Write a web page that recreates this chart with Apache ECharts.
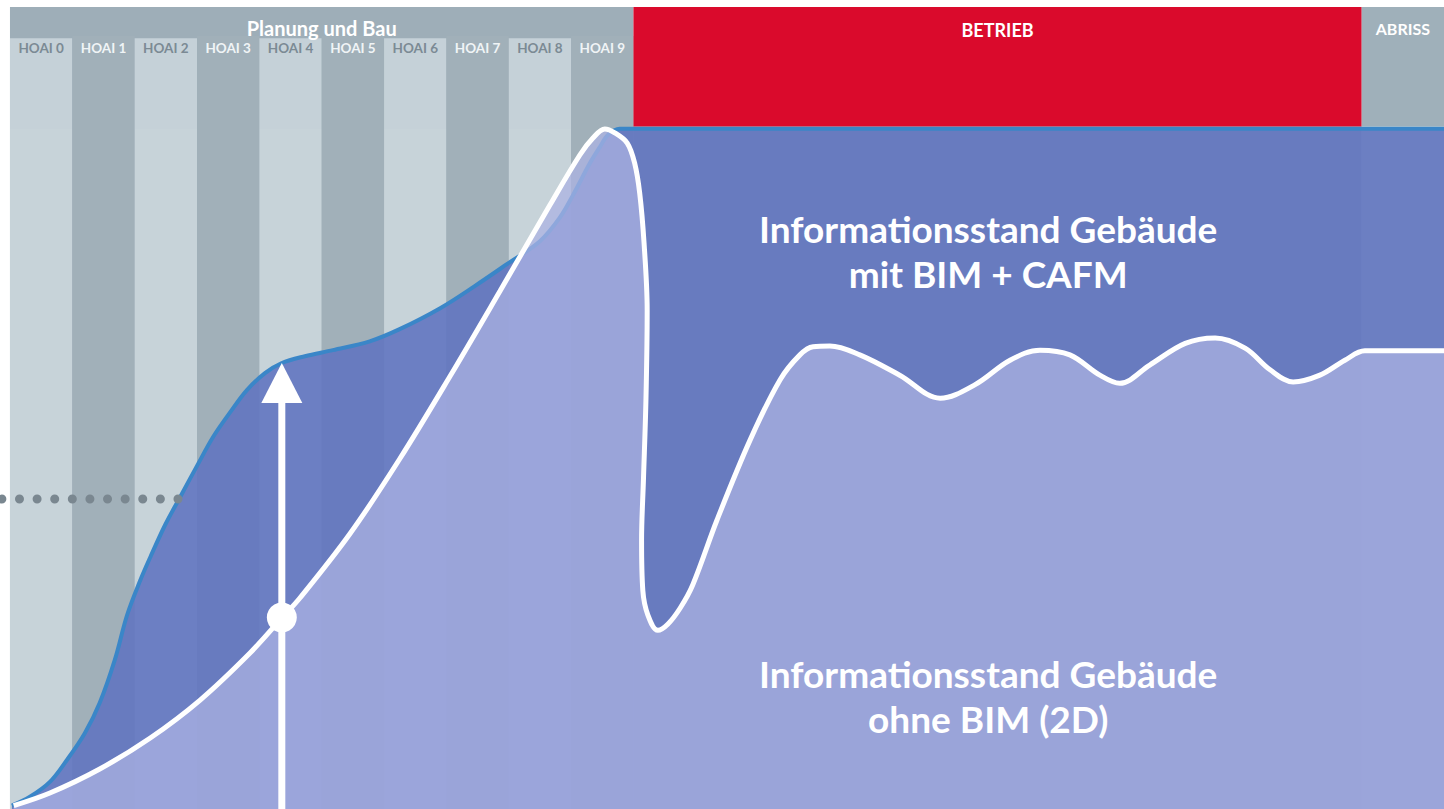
<!DOCTYPE html>
<html><head><meta charset="utf-8">
<script src="https://cdn.jsdelivr.net/npm/echarts@6/dist/echarts.min.js"></script>
<style>html,body{margin:0;padding:0;background:#fff}#c{width:1444px;height:809px}</style>
</head><body><div id="c"></div>
<script>
// ---- data ----
const phaseLabels = ['HOAI 0','HOAI 1','HOAI 2','HOAI 3','HOAI 4','HOAI 5','HOAI 6','HOAI 7','HOAI 8','HOAI 9'];
const stageLabels = ['Planung und Bau','BETRIEB','ABRISS'];
const stageStart = [0, 10, 21.68];
const stageEnd = [10, 21.68, 23];
// information level with BIM + CAFM (x in HOAI phases, y in % of max)
const bimX = [0.03,0.32,0.64,0.91,1.20,1.44,1.68,1.88,2.09,2.25,2.49,2.73,3.00,3.26,3.53,3.80,4.09,4.36,4.73,5.18,5.77,6.25,6.90,7.46,7.97,8.50,8.82,9.03,9.30,9.46,9.59,9.78,10.2,23.0];
const bimY = [0,1.3,3.5,6.7,10.7,15.2,21.5,28.2,33.3,36.7,41.5,45.6,50.2,54.5,58.1,61.4,63.9,65.4,66.4,67.3,68.6,70.4,73.5,76.8,80.0,83.4,86.9,90.2,94.9,97.3,99.1,100,100,100];
// information level without BIM (2D)
const twoDX = [0.06,0.64,1.44,2.25,3.05,3.85,4.36,4.65,5.45,6.25,7.06,7.86,8.66,9.14,9.35,9.54,9.70,9.90,10.02,10.10,10.17,10.22,10.20,10.16,10.13,10.15,10.23,10.39,10.55,10.75,10.95,11.34,11.87,12.35,12.67,12.88,13.15,13.63,14.27,14.92,15.48,16.04,16.52,17.00,17.48,17.80,18.28,18.85,19.33,19.81,20.21,20.58,21.01,21.41,21.73,23.00];
const twoDY = [0,1.86,5.41,9.99,15.6,22.55,27.72,30.67,40.13,51.21,63.47,76.03,88.74,96.13,98.64,99.97,99.4,97.9,94.9,90.5,83.1,73.2,59.9,48.1,39.2,31.8,28.2,25.9,26.8,29.2,32.6,42.2,54.0,62.9,66.6,67.8,67.9,66.6,63.6,60.2,62.2,65.8,67.3,66.6,63.6,62.4,65.1,68.3,69.1,67.6,64.4,62.6,63.6,65.8,67.2,67.2];
const refLineX = [-0.13, 2.70];
const refLineY = [45.3, 45.3];
const markerPhase = 4.36;
const markerTop = 65.4;
const markerCross = 27.8;
const areaTitles = ['Informationsstand Gebäude\nmit BIM + CAFM', 'Informationsstand Gebäude\nohne BIM (2D)'];

// ---- layout / styles ----
const FONT = 'Lato';
const Y_MIN = -0.5, Y_MAX = 118, HEAD_BOTTOM = 100.3, COL_TOP_LIGHT = 113.4, COL_TOP_DARK = 113.7;
const C_GRAY = '#9eaeb8', C_DARK = '#a1b0b9', C_LIGHT = '#c5d1d8', C_RED = '#da0a2c';

const bg = [];
bg.push([{xAxis: stageStart[0], yAxis: Y_MIN, itemStyle: {color: C_GRAY}, label: {show: false}}, {xAxis: stageEnd[0], yAxis: Y_MAX}]);
phaseLabels.forEach((p, i) => {
  const light = i % 2 === 0;
  bg.push([{name: p, xAxis: i, yAxis: Y_MIN, itemStyle: {color: light ? C_LIGHT : C_DARK},
    label: {show: true, position: 'insideTop', distance: light ? 3 : 5, color: light ? '#7b8a94' : '#f0f4f6',
      fontFamily: FONT, fontWeight: 'bold', fontSize: 13.5, lineHeight: 14}},
    {xAxis: i + 1, yAxis: light ? COL_TOP_LIGHT : COL_TOP_DARK}]);
});
bg.push([{name: stageLabels[0], xAxis: stageStart[0], yAxis: COL_TOP_DARK, itemStyle: {color: 'rgba(0,0,0,0)'},
  label: {show: true, position: 'insideTop', distance: 11, color: '#ffffff', fontFamily: FONT, fontWeight: 'bold', fontSize: 20, lineHeight: 20}},
  {xAxis: stageEnd[0], yAxis: Y_MAX}]);
bg.push([{name: stageLabels[1], xAxis: stageStart[1], yAxis: HEAD_BOTTOM, itemStyle: {color: C_RED},
  label: {show: true, position: 'insideTop', distance: 14, color: '#ffffff', fontFamily: FONT, fontWeight: 'bold', fontSize: 18}},
  {xAxis: stageEnd[1], yAxis: Y_MAX}]);
bg.push([{xAxis: stageStart[1], yAxis: Y_MIN, itemStyle: {color: C_DARK}, label: {show: false}}, {xAxis: stageEnd[1], yAxis: HEAD_BOTTOM}]);
bg.push([{name: stageLabels[2], xAxis: stageStart[2], yAxis: HEAD_BOTTOM, itemStyle: {color: '#9fb0ba'},
  label: {show: true, position: 'insideTop', distance: 13, color: '#ffffff', fontFamily: FONT, fontWeight: 'bold', fontSize: 16}},
  {xAxis: stageEnd[2], yAxis: Y_MAX}]);
bg.push([{xAxis: stageStart[2], yAxis: Y_MIN, itemStyle: {color: C_LIGHT}, label: {show: false}}, {xAxis: stageEnd[2], yAxis: HEAD_BOTTOM}]);

// subtle stripe overlay so the HOAI columns show through the filled areas
const overlay = [];
phaseLabels.forEach((p, i) => {
  if (i % 2 === 0) overlay.push([{xAxis: i, yAxis: Y_MIN, itemStyle: {color: 'rgba(255,255,255,0.045)'}}, {xAxis: i + 1, yAxis: 100}]);
});

const zip = (xs, ys) => xs.map((x, i) => [x, ys[i]]);

const chart = echarts.init(document.getElementById('c'), null, {renderer: 'svg'});
chart.setOption({
  animation: false,
  backgroundColor: '#ffffff',
  grid: {left: 0, right: 0, top: 7, bottom: 0},
  xAxis: {type: 'value', min: -0.16, max: 23, show: false},
  yAxis: {type: 'value', min: Y_MIN, max: Y_MAX, show: false},
  series: [
    {type: 'line', data: [], z: 1, silent: true, markArea: {silent: true, data: bg}},
    {name: 'BIM', type: 'line', data: zip(bimX, bimY), z: 2, smooth: 0.35, symbol: 'none', silent: true,
      lineStyle: {color: '#3a86c8', width: 4},
      areaStyle: {color: 'rgba(98,117,192,0.9)', opacity: 1, origin: 'start'}},
    {name: '2D', type: 'line', data: zip(twoDX, twoDY), z: 3, smooth: 0.35, symbol: 'none', silent: true,
      lineStyle: {color: '#ffffff', width: 5},
      areaStyle: {color: 'rgba(172,178,226,0.74)', opacity: 1, origin: 'start'}},
    {type: 'line', data: [], z: 4, silent: true, markArea: {silent: true, label: {show: false}, data: overlay}},
    {type: 'line', data: zip(refLineX, refLineY), z: 4, symbol: 'none', silent: true,
      lineStyle: {color: '#7a8790', width: 9, type: [0.01, 17.6], cap: 'round'}},
    {type: 'line', data: [[markerPhase, Y_MIN], [markerPhase, markerTop - 3]], z: 5, symbol: 'none', silent: true,
      lineStyle: {color: '#ffffff', width: 7}},
    {type: 'scatter', z: 6, silent: true, data: [[markerPhase, markerTop - 2.95]], symbol: 'triangle', symbolSize: [41, 40],
      itemStyle: {color: '#ffffff', opacity: 1}},
    {type: 'scatter', z: 6, silent: true, data: [[markerPhase, markerCross]], symbol: 'circle', symbolSize: 30,
      itemStyle: {color: '#ffffff', opacity: 1}},
    {type: 'scatter', z: 7, silent: true, symbolSize: 0, itemStyle: {opacity: 1},
      data: [{name: areaTitles[0], value: [15.69, 81.9]}, {name: areaTitles[1], value: [15.69, 16.2]}],
      label: {show: true, position: 'inside', formatter: '{b}', color: '#ffffff', opacity: 1, fontFamily: FONT,
        fontWeight: 'bold', fontSize: 37, lineHeight: 45, align: 'center'}}
  ]
});
</script></body></html>
